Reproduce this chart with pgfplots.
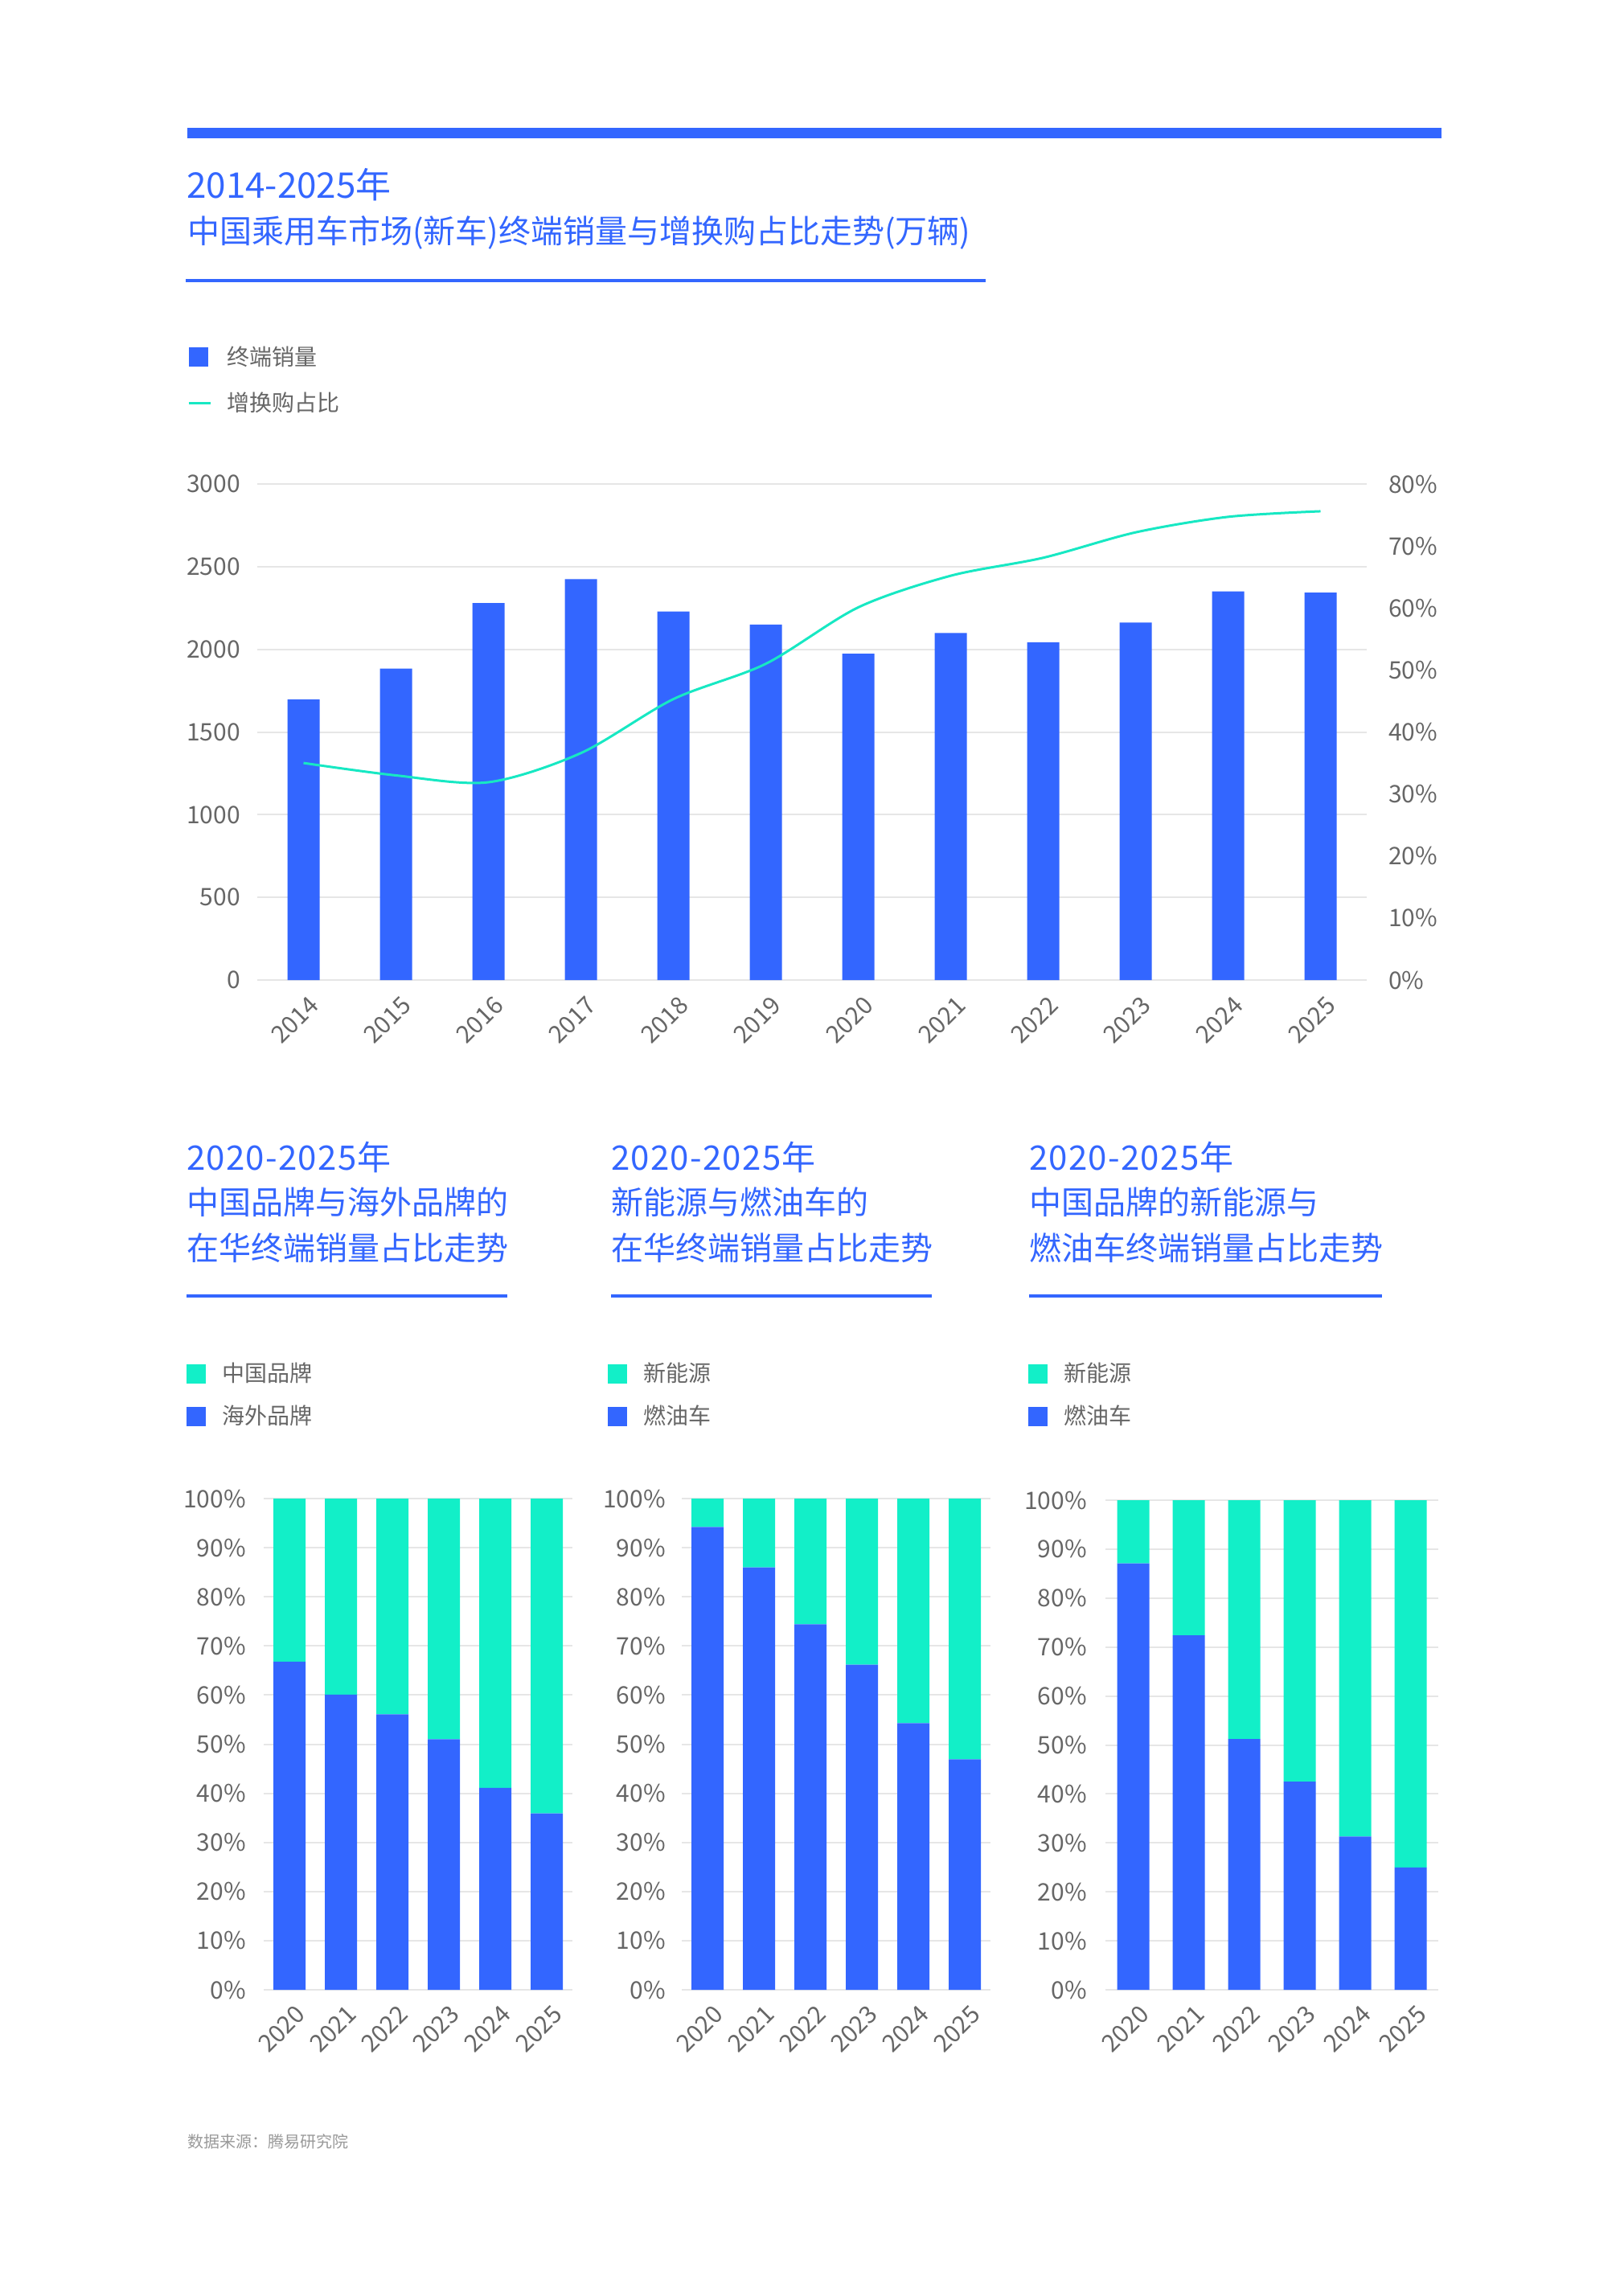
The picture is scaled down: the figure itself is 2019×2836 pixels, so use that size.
\documentclass[border=0pt]{standalone}
\usepackage{fontspec}
\setmainfont{Noto Sans CJK SC}
\usepackage{pgfplots}
\pgfplotsset{compat=1.18}
\definecolor{cblue}{HTML}{3366FF}
\definecolor{cteal}{HTML}{12EFC8}
\definecolor{cline}{HTML}{17E8C3}
\definecolor{cgray}{HTML}{666666}
\definecolor{cgrid}{HTML}{E6E6E6}
\definecolor{csrc}{HTML}{999999}
\pgfplotsset{
  base/.style={
    scale only axis,
    anchor=south west,
    axis line style={draw=none},
    major tick length=0pt,
    tick style={draw=none},
    ymajorgrids, grid style={cgrid, line width=2pt},
    /pgf/number format/assume math mode=true,
    tick label style={font=\fontsize{30pt}{30pt}\selectfont, text=cgray, inner sep=0pt},
    legend cell align=left,
    legend style={draw=none, fill=none, inner sep=0pt, outer sep=0pt, anchor=north west,
      font=\fontsize{28pt}{28pt}\selectfont,
      nodes={inner sep=0pt, text height=23pt, text depth=3pt, text=cgray},
      row sep=31pt, column sep=19pt},
  },
  sq legend/.style={legend image code/.code={\fill[##1] (0pt,-12pt) rectangle (24pt,12pt);}},
  ln legend/.style={legend image code/.code={\draw[##1] (0pt,0pt) -- (27pt,0pt);}},
  pct/.style={ymin=0, ymax=100, ytick={0,10,20,30,40,50,60,70,80,90,100},
    yticklabels={0\%,10\%,20\%,30\%,40\%,50\%,60\%,70\%,80\%,90\%,100\%},
    xmin=-0.5, xmax=5.5, xtick={0,1,2,3,4,5},
    xticklabels={2020,2021,2022,2023,2024,2025},
    ybar stacked, bar width=40pt,
    xticklabel style={anchor=east, xshift=14pt, yshift=-25pt, rotate=45},
    reverse legend,
    legend style={row sep=27pt, column sep=20pt}},
}
\begin{document}
\begin{tikzpicture}
\useasboundingbox (0pt,0pt) rectangle (2019pt,-2836pt);
% header decorations
\fill[cblue] (233pt,-159pt) rectangle (1793pt,-172pt);
\node[anchor=base west, inner sep=0pt, text=cblue, font=\fontsize{44pt}{44pt}\selectfont] at (232pt,-247pt) {2014-2025年};
\node[anchor=base west, inner sep=0pt, text=cblue, font=\fontsize{40pt}{40pt}\selectfont] at (233pt,-303pt) {中国乘用车市场(新车)终端销量与增换购占比走势(万辆)};
\fill[cblue] (231pt,-347pt) rectangle (1226pt,-351pt);

% top chart: bars
\begin{axis}[base, at={(320pt,-1219pt)}, width=1380pt, height=617pt,
  ybar, bar width=40pt,
  xmin=-0.5, xmax=11.5, ymin=0, ymax=3000,
  xtick={0,1,2,3,4,5,6,7,8,9,10,11},
  xticklabels={2014,2015,2016,2017,2018,2019,2020,2021,2022,2023,2024,2025},
  ytick={0,500,1000,1500,2000,2500,3000},
  yticklabels={0,500,1000,1500,2000,2500,3000},
  yticklabel style={anchor=east, xshift=-21pt},
  xticklabel style={anchor=east, xshift=13pt, yshift=-26pt, rotate=45},
  legend style={at={(-0.06304,1.27715)}},
]
\addplot[fill=cblue, draw=none, sq legend] coordinates {
 (0,1698) (1,1884) (2,2280) (3,2425) (4,2229) (5,2150)
 (6,1973) (7,2099) (8,2043) (9,2162) (10,2350) (11,2343)};
\addlegendentry{终端销量}
\addlegendimage{cline, line width=3pt, ln legend}
\addlegendentry{增换购占比}
\end{axis}
% top chart: line
\begin{axis}[base, at={(320pt,-1219pt)}, width=1380pt, height=617pt,
  ymajorgrids=false, axis y line*=right, hide x axis,
  xmin=-0.5, xmax=11.5, ymin=0, ymax=80,
  ytick={0,10,20,30,40,50,60,70,80},
  yticklabels={0\%,10\%,20\%,30\%,40\%,50\%,60\%,70\%,80\%},
  yticklabel style={anchor=west, xshift=27pt},
]
\addplot[cline, line width=3pt, smooth, no marks] coordinates {
 (0,35.0) (1,33.0) (2,31.9) (3,36.6) (4,45.3) (5,51.0)
 (6,60.1) (7,65.2) (8,68.1) (9,72.2) (10,74.7) (11,75.6)};
\end{axis}

% bottom titles
\foreach \xx/\la/\lb in {232/中国品牌与海外品牌的/在华终端销量占比走势,
                         760/新能源与燃油车的/在华终端销量占比走势,
                         1280/中国品牌的新能源与/燃油车终端销量占比走势}{
  \node[anchor=base west, inner sep=0pt, text=cblue, font=\fontsize{42pt}{42pt}\selectfont\addfontfeature{LetterSpace=3}] at (\xx pt,-1455pt) {2020-2025年};
  \node[anchor=base west, inner sep=0pt, text=cblue, font=\fontsize{40pt}{40pt}\selectfont] at (\xx pt,-1510pt) {\la};
  \node[anchor=base west, inner sep=0pt, text=cblue, font=\fontsize{40pt}{40pt}\selectfont] at (\xx pt,-1567pt) {\lb};
}
\fill[cblue] (232pt,-1610pt) rectangle (631pt,-1614pt);
\fill[cblue] (760pt,-1610pt) rectangle (1159pt,-1614pt);
\fill[cblue] (1280pt,-1610pt) rectangle (1719pt,-1614pt);

% bottom chart 1
\begin{axis}[base, pct, at={(328pt,-2475pt)}, width=384pt, height=611pt,
  yticklabel style={anchor=east, xshift=-22pt},
  legend style={at={(-0.25,1.2758)}}]
\addplot[fill=cblue, draw=none, sq legend] coordinates {(0,66.8) (1,60.1) (2,56.1) (3,51.0) (4,41.1) (5,35.9)};
\addlegendentry{海外品牌}
\addplot[fill=cteal, draw=none, sq legend] coordinates {(0,33.2) (1,39.9) (2,43.9) (3,49.0) (4,58.9) (5,64.1)};
\addlegendentry{中国品牌}
\end{axis}
% bottom chart 2
\begin{axis}[base, pct, at={(848pt,-2475pt)}, width=384pt, height=611pt,
  yticklabel style={anchor=east, xshift=-20pt},
  legend style={at={(-0.2396,1.2758)}}]
\addplot[fill=cblue, draw=none, sq legend] coordinates {(0,94.2) (1,86.0) (2,74.4) (3,66.2) (4,54.3) (5,46.9)};
\addlegendentry{燃油车}
\addplot[fill=cteal, draw=none, sq legend] coordinates {(0,5.8) (1,14.0) (2,25.6) (3,33.8) (4,45.7) (5,53.1)};
\addlegendentry{新能源}
\end{axis}
% bottom chart 3
\begin{axis}[base, pct, at={(1375pt,-2475pt)}, width=414pt, height=609pt,
  yticklabel style={anchor=east, xshift=-23pt},
  legend style={at={(-0.2319,1.280)}}]
\addplot[fill=cblue, draw=none, sq legend] coordinates {(0,87.1) (1,72.4) (2,51.2) (3,42.5) (4,31.3) (5,25.0)};
\addlegendentry{燃油车}
\addplot[fill=cteal, draw=none, sq legend] coordinates {(0,12.9) (1,27.6) (2,48.8) (3,57.5) (4,68.7) (5,75.0)};
\addlegendentry{新能源}
\end{axis}

\node[anchor=base west, inner sep=0pt, text=csrc, font=\fontsize{20pt}{20pt}\selectfont] at (233pt,-2671pt) {数据来源：腾易研究院};
\end{tikzpicture}
\end{document}
